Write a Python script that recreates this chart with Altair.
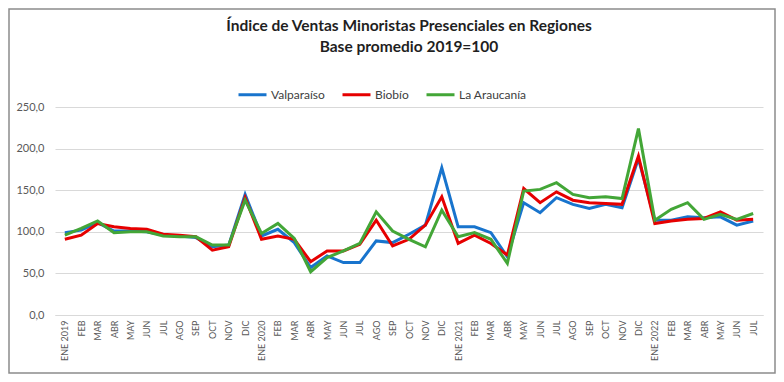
import json
import altair as alt
import pandas as pd

months = ["ENE", "FEB", "MAR", "ABR", "MAY", "JUN", "JUL", "AGO", "SEP", "OCT", "NOV", "DIC"]
years = [(2019, 12), (2020, 12), (2021, 12), (2022, 7)]
labels = []
for yr, n in years:
    for i in range(n):
        labels.append(f"ENE {yr}" if i == 0 else months[i])

series = ["Valparaíso", "Biobío", "La Araucanía"]
colors = ["#1874CD", "#E60000", "#43A637"]

valparaiso = [99, 102, 111, 101, 101, 100, 96, 95, 93, 82, 84, 145,
              95, 103, 87, 57, 71, 63, 63, 89, 87, 97, 108, 177,
              106, 106, 99, 70, 135, 123, 141, 133, 128, 133, 129, 188,
              114, 114, 118, 117, 118, 108, 113]
biobio = [91, 96, 110, 106, 104, 103, 97, 96, 94, 78, 82, 141,
          91, 95, 91, 64, 77, 77, 85, 114, 83, 91, 108, 142,
          86, 96, 86, 72, 152, 135, 148, 138, 135, 134, 133, 191,
          110, 113, 115, 116, 124, 114, 115]
araucania = [96, 104, 113, 99, 100, 100, 95, 94, 94, 84, 84, 138,
             98, 110, 92, 52, 69, 77, 86, 124, 101, 91, 82, 126,
             94, 99, 91, 62, 149, 151, 159, 145, 141, 142, 140, 224,
             114, 127, 135, 115, 121, 115, 122]

rows = []
for name, vals in zip(series, [valparaiso, biobio, araucania]):
    for i, v in enumerate(vals):
        rows.append({"idx": i, "serie": name, "valor": v})
df = pd.DataFrame(rows)

W, H = 708, 208
PAD = {"left": 47, "top": 99, "right": 13, "bottom": 59}
FONT = "Lato"

x_label_expr = json.dumps(labels) + "[datum.value]"

lines = alt.Chart(df).mark_line(strokeWidth=3).encode(
    x=alt.X("idx:O", scale=alt.Scale(type="point", padding=0.6),
            axis=alt.Axis(title=None, labelExpr=x_label_expr, labelAngle=270,
                          labelAlign="right", labelBaseline="middle",
                          labelFontSize=9, labelColor="#595959", labelFont=FONT,
                          ticks=False, domain=True, domainColor="#D9D9D9",
                          labelPadding=5, grid=False)),
    y=alt.Y("valor:Q", scale=alt.Scale(domain=[0, 250], nice=False),
            axis=alt.Axis(title=None, values=[0, 50, 100, 150, 200, 250],
                          labelExpr="replace(format(datum.value, '.1f'), '.', ',')",
                          labelFontSize=11, labelColor="#595959", labelFont=FONT,
                          ticks=False, domain=False, labelPadding=11,
                          grid=True, gridColor="#D9D9D9", gridWidth=1.2)),
    color=alt.Color("serie:N", sort=series,
                    scale=alt.Scale(domain=series, range=colors),
                    legend=alt.Legend(title=None, orient="none", direction="horizontal",
                                      legendX=182, legendY=-28, symbolType="stroke",
                                      symbolSize=784, symbolStrokeWidth=3,
                                      labelFontSize=12, labelFont=FONT, labelColor="#404040",
                                      columnPadding=11, labelOffset=3)),
    order=alt.Order("idx:Q"),
)

frame = alt.Chart(alt.Data(values=[{"a": 1}])).mark_rect(
    fill=None, stroke="#8C8C8C", strokeWidth=1.5
).encode(
    x=alt.value(-PAD["left"] + 1), x2=alt.value(W + PAD["right"] - 1),
    y=alt.value(-PAD["top"] + 1), y2=alt.value(H + PAD["bottom"] - 1),
)

chart = alt.layer(lines, frame).properties(
    width=W, height=H,
    autosize="none", padding=PAD,
    title=alt.TitleParams(
        text=["Índice de Ventas Minoristas Presenciales en Regiones", "Base promedio 2019=100"],
        font=FONT, fontSize=15.5, fontWeight="bold", color="#1F1F1F",
        anchor="middle", lineHeight=21, offset=-47, frame="group",
    ),
).configure_view(stroke=None)

chart.save("out.html", embed_options={"renderer": "svg", "actions": False})
